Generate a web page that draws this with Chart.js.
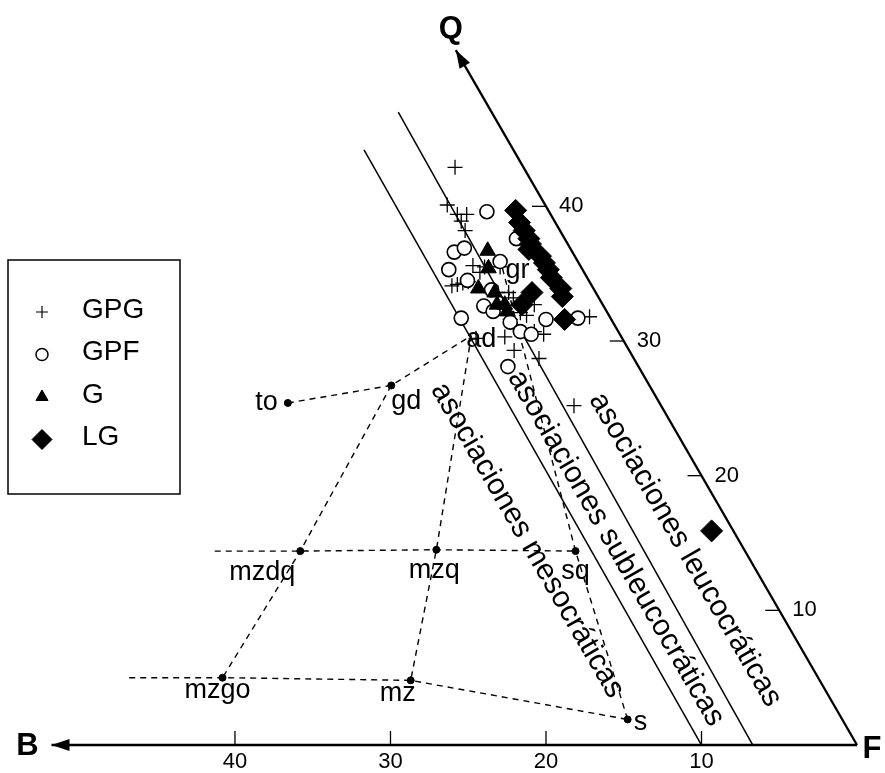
<!DOCTYPE html>
<html>
<head>
<meta charset="utf-8">
<script src="https://cdn.jsdelivr.net/npm/chart.js@4.4.0/dist/chart.umd.min.js"></script>
<style>
  html, body { margin: 0; padding: 0; background: #fff; }
  #wrap { width: 885px; height: 773px; }
</style>
</head>
<body>
<div id="wrap"><canvas id="qbf" width="885" height="773"></canvas></div>
<script>
// Q-B-F diagram: B along the bottom (to the left), Q along the 60 degree edge
const gpgB = [4.4, 6.3, 6.0, 5.4, 6.0, 6.1, 6.9, 6.2, 5.2, 6.7, 7.8, 8.6, 8.2, 9.0, 6.3, 5.6, 5.5, 4.4, 5.6, 5.3, 5.4, 4.9, 7.5, 7.4, 6.1, 5.6, 1.3, 9.4, 6.5];
const gpgQ = [42.9, 40.1, 39.4, 39.4, 38.9, 38.2, 35.6, 35.5, 35.5, 35.1, 34.4, 34.2, 34.3, 34.1, 33.6, 33.6, 33.2, 32.7, 32.1, 31.9, 30.7, 30.5, 30.3, 29.3, 28.7, 25.2, 31.8, 30.2, 31.6];

const gpfB = [4.0, 7.6, 6.8, 8.6, 7.8, 7.7, 7.3, 9.6, 6.6, 6.3, 5.7, 4.2, 2.1, 8.4, 5.0, 3.1, 6.6];
const gpfQ = [39.6, 36.6, 36.9, 35.3, 34.5, 32.6, 32.2, 31.7, 31.4, 30.7, 30.5, 31.6, 31.7, 28.1, 35.9, 37.6, 33.8];

const gB = [5.4, 6.0, 7.4, 6.5, 6.3, 6.4, 6.8];
const gQ = [36.7, 35.4, 33.9, 33.6, 32.7, 32.2, 32.7];

const lgB = [2.1, 2.3, 2.3, 2.3, 2.4, 2.7, 2.2, 2.2, 2.2, 2.3, 2.1, 2.3, 4.1, 3.0, 1.4, 5.2];
const lgQ = [39.7, 38.8, 38.2, 37.6, 37.2, 36.8, 36.3, 35.8, 35.3, 34.7, 33.9, 33.3, 33.6, 31.6, 15.9, 32.7];

// reference points of the grid
const refNames = ['to', 'gd', 'ad', 'gr', 'mzdq', 'mzq', 'sq', 'mzgo', 'mz', 's'];
const refB = [23.9, 16.6, 9.6, 5.1, 28.6, 19.8, 10.9, 38.3, 26.3, 13.8];
const refQ = [25.4, 26.7, 30.4, 35.4, 14.4, 14.5, 14.4, 5.0, 4.8, 1.9];

const bTicks = [10, 20, 30, 40];
const qTicks = [10, 20, 30, 40];

const legendNames = ['GPG', 'GPF', 'G', 'LG'];
const zoneNames = ['asociaciones mesocráticas', 'asociaciones subleucocráticas', 'asociaciones leucocráticas'];

const H = Math.sqrt(3) / 2;
function xy(b, q) { return { x: b + q / 2, y: q * H }; }
function pts(bs, qs) { return bs.map((b, i) => xy(b, qs[i])); }
function refPt(name) { const i = refNames.indexOf(name); return xy(refB[i], refQ[i]); }

const font = '"Liberation Sans", Arial, Helvetica, sans-serif';

const dash = (data) => ({
    type: 'line', data: data, showLine: true, borderColor: '#000', borderWidth: 1.4,
    borderDash: [6, 5], pointRadius: 0, fill: false, order: 20
});
const solid = (data, w) => ({
    type: 'line', data: data, showLine: true, borderColor: '#000', borderWidth: w,
    pointRadius: 0, fill: false, order: 15
});

const overlay = {
    id: 'overlay',
    afterDatasetsDraw(chart) {
        const ctx = chart.ctx;
        const sx = chart.scales.x, sy = chart.scales.y;
        const px = (b, q) => { const p = xy(b, q); return { x: sx.getPixelForValue(p.x), y: sy.getPixelForValue(p.y) }; };
        ctx.save();
        ctx.fillStyle = '#000';
        ctx.strokeStyle = '#000';

        // B axis ticks and labels
        ctx.lineWidth = 1.3;
        ctx.font = '22px ' + font;
        ctx.textAlign = 'center';
        ctx.textBaseline = 'top';
        bTicks.forEach(b => {
            const p = px(b, 0);
            ctx.beginPath(); ctx.moveTo(p.x, p.y); ctx.lineTo(p.x, p.y - 14); ctx.stroke();
            ctx.fillText(String(b), p.x, p.y + 6);
        });

        // Q axis ticks and labels
        ctx.textAlign = 'left';
        ctx.textBaseline = 'middle';
        qTicks.forEach(q => {
            const p = px(0, q);
            ctx.beginPath(); ctx.moveTo(p.x - 14, p.y); ctx.lineTo(p.x, p.y); ctx.stroke();
            ctx.fillText(String(q), p.x + 13, p.y);
        });

        // arrowheads
        const arrow = (from, to) => {
            const a = Math.atan2(to.y - from.y, to.x - from.x);
            ctx.save();
            ctx.translate(to.x, to.y);
            ctx.rotate(a);
            ctx.beginPath(); ctx.moveTo(0, 0); ctx.lineTo(-18, -6); ctx.lineTo(-18, 6); ctx.closePath(); ctx.fill();
            ctx.restore();
        };
        arrow(px(0, 0), px(51.8, 0));
        arrow(px(0, 0), px(0, 51.6));

        // corner letters
        ctx.font = 'bold 31px ' + font;
        ctx.textAlign = 'center';
        ctx.textBaseline = 'middle';
        const pb = px(51.8, 0);
        ctx.fillText('B', pb.x - 24, pb.y + 1);
        const pf = px(0, 0);
        ctx.fillText('F', pf.x + 15, pf.y + 4);
        const pq = px(0, 51.6);
        ctx.fillText('Q', pq.x - 5, pq.y - 21);

        // reference point labels
        ctx.font = '27px ' + font;
        const refOff = {
            to: [-10, 0, 'right'], gd: [0, 16, 'left'], ad: [-5, 4, 'left'], gr: [3, 2, 'left'],
            mzdq: [-38, 21, 'center'], mzq: [-2, 21, 'center'], sq: [0, 20, 'center'],
            mzgo: [-5, 13, 'center'], mz: [-13, 13, 'center'], s: [6, 3, 'left']
        };
        refNames.forEach((n, i) => {
            const p = px(refB[i], refQ[i]);
            const o = refOff[n];
            ctx.textAlign = o[2];
            ctx.fillText(n, p.x + o[0], p.y + o[1]);
        });

        // zone names, rotated along the boundaries
        const zoneB = [13.6, 8.2, 3.8];
        const zoneQ = [15.2, 14.6, 14.5];
        const top = px(0, 10), bot = px(0, 0);
        const ang = Math.atan2(bot.y - top.y, bot.x - top.x);
        ctx.font = '30px ' + font;
        ctx.textAlign = 'center';
        ctx.textBaseline = 'middle';
        zoneNames.forEach((t, i) => {
            const p = px(zoneB[i], zoneQ[i]);
            ctx.save();
            ctx.translate(p.x, p.y);
            ctx.rotate(ang);
            ctx.fillText(t, 0, 0);
            ctx.restore();
        });

        // legend box
        ctx.lineWidth = 1.5;
        ctx.strokeRect(8, 260, 172, 234);
        const styles = [
            { pointStyle: 'cross', radius: 6, fill: '#000', bw: 1.2 },
            { pointStyle: 'circle', radius: 6, fill: '#fff', bw: 1.5 },
            { pointStyle: 'triangle', radius: 7, fill: '#000', bw: 1 },
            { pointStyle: 'rectRot', radius: 10, fill: '#000', bw: 1 }
        ];
        ctx.font = '28px ' + font;
        ctx.textAlign = 'left';
        legendNames.forEach((n, i) => {
            const y = 310 + i * 42.5;
            const s = styles[i];
            ctx.fillStyle = s.fill;
            ctx.lineWidth = s.bw;
            Chart.helpers.drawPoint(ctx, { pointStyle: s.pointStyle, radius: s.radius, rotation: 0, borderWidth: s.bw }, 42, y + 2);
            ctx.fillStyle = '#000';
            ctx.fillText(n, 82, y);
        });
        ctx.restore();
    }
};

new Chart(document.getElementById('qbf'), {
    type: 'scatter',
    data: {
        datasets: [
            // frame
            solid([xy(0, 0), xy(51.8, 0)], 2.5),
            solid([xy(0, 0), xy(0, 51.6)], 2.3),
            // zone limits
            solid([xy(10, 0), xy(9.6, 44.2)], 1.5),
            solid([xy(6.7, 0), xy(6.0, 47)], 1.5),
            // reference grid
            dash([refPt('to'), refPt('gd'), refPt('ad')]),
            dash([refPt('gd'), refPt('mzdq'), refPt('mzgo')]),
            dash([refPt('ad'), refPt('mzq'), refPt('mz')]),
            dash([refPt('gr'), refPt('sq'), refPt('s')]),
            dash([xy(34.1, 14.4), refPt('mzdq'), refPt('mzq'), refPt('sq')]),
            dash([xy(44.3, 5.0), refPt('mzgo'), refPt('mz'), refPt('s')]),
            {
                label: 'ref', data: ['to', 'gd', 'mzdq', 'mzq', 'sq', 'mzgo', 'mz', 's'].map(refPt),
                pointRadius: 3.5, pointBackgroundColor: '#000', pointBorderColor: '#000', order: 12
            },
            // samples
            {
                label: 'GPG', data: pts(gpgB, gpgQ), pointStyle: 'cross', pointRadius: 7.5,
                pointBorderColor: '#000', pointBorderWidth: 1.3, order: 5
            },
            {
                label: 'GPF', data: pts(gpfB, gpfQ), pointStyle: 'circle', pointRadius: 7,
                pointBackgroundColor: '#fff', pointBorderColor: '#000', pointBorderWidth: 1.6, order: 4
            },
            {
                label: 'G', data: pts(gB, gQ), pointStyle: 'triangle', pointRadius: 9,
                pointBackgroundColor: '#000', pointBorderColor: '#000', order: 3
            },
            {
                label: 'LG', data: pts(lgB, lgQ), pointStyle: 'rectRot', pointRadius: 11,
                pointBackgroundColor: '#000', pointBorderColor: '#000', order: 2
            }
        ]
    },
    options: {
        responsive: false,
        animation: false,
        devicePixelRatio: 1,
        layout: { padding: 0, autoPadding: false },
        plugins: { legend: { display: false }, tooltip: { enabled: false } },
        scales: {
            x: { type: 'linear', display: false, reverse: true, min: -1.80, max: 55.11 },
            y: { type: 'linear', display: false, min: -1.80, max: 47.91 }
        }
    },
    plugins: [overlay]
});
</script>
</body>
</html>
